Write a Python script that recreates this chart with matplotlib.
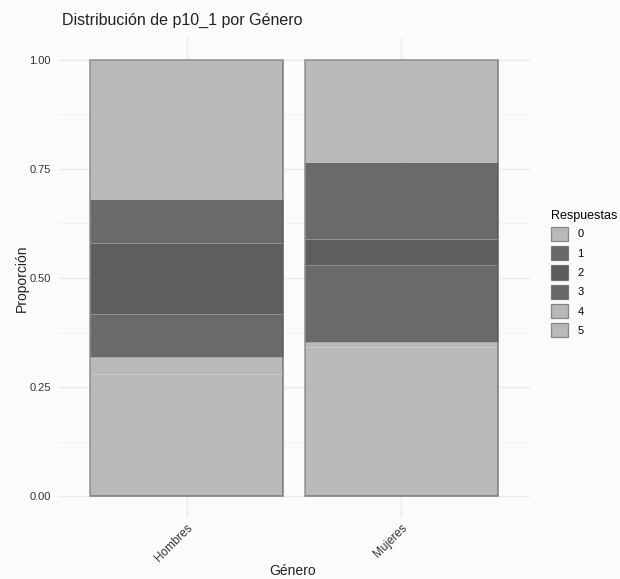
import matplotlib.pyplot as plt
from matplotlib.patches import Patch, Rectangle

plt.rcParams["font.family"] = ["Liberation Sans", "DejaVu Sans"]

# ==========================
# Data
# ==========================

generos = ["Hombres", "Mujeres"]
respuestas = ["0", "1", "2", "3", "4", "5"]

# proportions per answer (stack order: 0 on top, 5 at bottom)
hombres = [0.320, 0.100, 0.162, 0.098, 0.040, 0.280]
mujeres = [0.234, 0.176, 0.060, 0.177, 0.010, 0.343]

colores = ["#b9b9b9", "#6a6a6a", "#5e5e5e", "#6a6a6a", "#b9b9b9", "#b9b9b9"]

# ==========================
# Plot
# ==========================

bg = "#fbfbfb"
fig = plt.figure(figsize=(6.2, 5.79), dpi=100, facecolor=bg)
ax = fig.add_axes([58 / 620, 61 / 579, 472 / 620, 480 / 579], facecolor=bg)

x = list(range(1, len(generos) + 1))
series = [hombres, mujeres]
edge = (0.3, 0.3, 0.3, 0.6)

# stack from the bottom: last level first
for i, g in enumerate(generos):
    bottom = 0.0
    for k in reversed(range(len(respuestas))):
        val = series[i][k]
        ax.bar(x[i], val, bottom=bottom, width=0.9, color=colores[k],
               edgecolor=(1, 1, 1, 0.05), linewidth=0.8, zorder=3)
        bottom += val
    ax.add_patch(Rectangle((x[i] - 0.45, 0), 0.9, bottom, fill=False,
                           edgecolor=edge, linewidth=1.1, zorder=4))

ax.set_xlim(0.4, 2.6)
ax.set_ylim(-0.05, 1.05)

ax.set_yticks([0, 0.25, 0.5, 0.75, 1.0])
ax.set_yticklabels(["0.00", "0.25", "0.50", "0.75", "1.00"])
ax.set_yticks([0.125, 0.375, 0.625, 0.875], minor=True)
ax.set_xticks(x)
ax.set_xticklabels(generos, rotation=45, ha="right", va="top",
                   rotation_mode="anchor")

ax.grid(True, which="major", color="#ebebeb", linewidth=1.0, zorder=0)
ax.grid(True, which="minor", axis="y", color="#f1f1f1", linewidth=0.6, zorder=0)
ax.tick_params(axis="y", which="both", length=0, labelsize=8,
               colors="#333333", pad=5)
ax.tick_params(axis="x", which="both", length=0, labelsize=8.5,
               colors="#333333", pad=3)
for s in ax.spines.values():
    s.set_visible(False)

fig.text(293 / 620, 1 - 571 / 579, "Género", fontsize=10, color="#222222",
         ha="center", va="center")
fig.text(22 / 620, 1 - 278 / 579, "Proporción", fontsize=10, color="#222222",
         ha="center", va="center", rotation=90)
fig.text(62 / 620, 1 - 20 / 579, "Distribución de p10_1 por Género",
         fontsize=11.5, color="#222222", va="center", ha="left")

handles = [Patch(facecolor=c, edgecolor=edge, linewidth=0.9) for c in colores]
leg = fig.legend(handles, respuestas, loc="upper left",
                 bbox_to_anchor=(544 / 620, 1 - 203 / 579), frameon=False,
                 title="Respuestas", title_fontsize=9, fontsize=8,
                 handlelength=1.6, handleheight=1.6, labelspacing=0.45,
                 handletextpad=0.8, alignment="left", borderaxespad=0.2)

fig.savefig("out.png", dpi=100, facecolor=bg)
print("[+] Saved chart -> out.png")
